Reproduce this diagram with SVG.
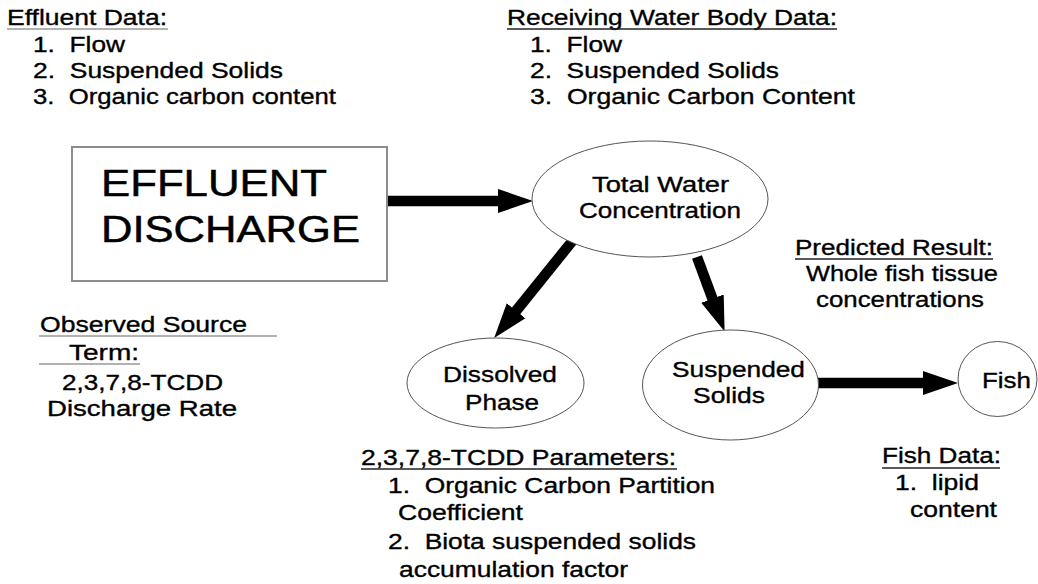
<svg xmlns="http://www.w3.org/2000/svg" width="1038" height="584" viewBox="0 0 1038 584">
<style>
.t{font-family:"Liberation Sans",Arial,Helvetica,sans-serif;font-size:22px;fill:#000;stroke:#000;stroke-width:0.35px}
.big{font-size:36.5px;stroke-width:0.5px}
.node{fill:#fff;stroke:#555;stroke-width:1}
.box{fill:#fff;stroke:#8c8c8c;stroke-width:2}
.ul{stroke:#222;stroke-width:1.5}
.ulg{stroke:#999;stroke-width:1.5}
.arr{stroke:#000;stroke-width:10.5;fill:none;marker-end:url(#ah)}
</style>
<defs>
<marker id="ah" markerUnits="userSpaceOnUse" viewBox="0 -13 35 26" refX="1" refY="0" markerWidth="35" markerHeight="26" orient="auto">
<path d="M0,-12 L35,0 L0,12z" fill="#000"/>
</marker>
</defs>
<rect width="1038" height="584" fill="#fff"/>

<g id="effluent-data">
<text class="t" x="7" y="25" textLength="160" lengthAdjust="spacingAndGlyphs">Effluent Data:</text>
<line class="ulg" x1="7" y1="29" x2="168" y2="29"/>
<text class="t" x="33" y="52" textLength="92" lengthAdjust="spacingAndGlyphs">1.&#160; Flow</text>
<text class="t" x="33" y="78" textLength="250" lengthAdjust="spacingAndGlyphs">2.&#160; Suspended Solids</text>
<text class="t" x="33" y="104" textLength="303" lengthAdjust="spacingAndGlyphs">3.&#160; Organic carbon content</text>
</g>

<g id="receiving-data">
<text class="t" x="507" y="25" textLength="330" lengthAdjust="spacingAndGlyphs">Receiving Water Body Data:</text>
<line class="ul" x1="507" y1="29" x2="837" y2="29"/>
<text class="t" x="530" y="52" textLength="92" lengthAdjust="spacingAndGlyphs">1.&#160; Flow</text>
<text class="t" x="530" y="78" textLength="249" lengthAdjust="spacingAndGlyphs">2.&#160; Suspended Solids</text>
<text class="t" x="530" y="104" textLength="325" lengthAdjust="spacingAndGlyphs">3.&#160; Organic Carbon Content</text>
</g>

<g id="connectors">
<path class="arr" d="M387,201 H499"/>
<path class="arr" d="M574,239 L515.5,311.6"/>
<path class="arr" d="M697,257 L712.8,299.6"/>
<path class="arr" d="M818,383 H924"/>
</g>

<g id="effluent-discharge">
<rect class="box" x="72" y="147" width="315" height="134"/>
<text class="t big" x="101" y="196" textLength="226" lengthAdjust="spacingAndGlyphs">EFFLUENT</text>
<text class="t big" x="101" y="242" textLength="259" lengthAdjust="spacingAndGlyphs">DISCHARGE</text>
</g>

<g id="total-water">
<ellipse class="node" cx="650" cy="199" rx="118" ry="58"/>
<text class="t" x="592" y="192" textLength="137" lengthAdjust="spacingAndGlyphs">Total Water</text>
<text class="t" x="579" y="218" textLength="162" lengthAdjust="spacingAndGlyphs">Concentration</text>
</g>

<g id="dissolved-phase">
<ellipse class="node" cx="495.5" cy="383" rx="88.5" ry="45"/>
<text class="t" x="443" y="382" textLength="114" lengthAdjust="spacingAndGlyphs">Dissolved</text>
<text class="t" x="465" y="410" textLength="74" lengthAdjust="spacingAndGlyphs">Phase</text>
</g>

<g id="suspended-solids">
<ellipse class="node" cx="730.5" cy="385" rx="88" ry="55"/>
<text class="t" x="672" y="377" textLength="133" lengthAdjust="spacingAndGlyphs">Suspended</text>
<text class="t" x="693" y="403" textLength="72" lengthAdjust="spacingAndGlyphs">Solids</text>
</g>

<g id="fish">
<ellipse class="node" cx="997.5" cy="379" rx="39.5" ry="37.5"/>
<text class="t" x="982" y="388" textLength="49" lengthAdjust="spacingAndGlyphs">Fish</text>
</g>

<g id="predicted-result">
<text class="t" x="795" y="255" textLength="198" lengthAdjust="spacingAndGlyphs">Predicted Result:</text>
<line class="ul" x1="795" y1="259" x2="993" y2="259"/>
<text class="t" x="806" y="281" textLength="192" lengthAdjust="spacingAndGlyphs">Whole fish tissue</text>
<text class="t" x="816" y="307" textLength="168" lengthAdjust="spacingAndGlyphs">concentrations</text>
</g>

<g id="observed-source">
<text class="t" x="40" y="332" textLength="207" lengthAdjust="spacingAndGlyphs">Observed Source</text>
<line class="ulg" x1="39" y1="336" x2="277" y2="336"/>
<text class="t" x="69" y="360" textLength="70" lengthAdjust="spacingAndGlyphs">Term:</text>
<line class="ulg" x1="39" y1="364" x2="140" y2="364"/>
<text class="t" x="62" y="390" textLength="161" lengthAdjust="spacingAndGlyphs">2,3,7,8-TCDD</text>
<text class="t" x="47" y="416" textLength="190" lengthAdjust="spacingAndGlyphs">Discharge Rate</text>
</g>

<g id="tcdd-parameters">
<text class="t" x="361" y="465" textLength="315" lengthAdjust="spacingAndGlyphs">2,3,7,8-TCDD Parameters:</text>
<line class="ul" x1="361" y1="469" x2="677" y2="469"/>
<text class="t" x="388" y="493" textLength="327" lengthAdjust="spacingAndGlyphs">1.&#160; Organic Carbon Partition</text>
<text class="t" x="398" y="520" textLength="125" lengthAdjust="spacingAndGlyphs">Coefficient</text>
<text class="t" x="388" y="549" textLength="308" lengthAdjust="spacingAndGlyphs">2.&#160; Biota suspended solids</text>
<text class="t" x="399" y="577" textLength="229" lengthAdjust="spacingAndGlyphs">accumulation factor</text>
</g>

<g id="fish-data">
<text class="t" x="882" y="463" textLength="119" lengthAdjust="spacingAndGlyphs">Fish Data:</text>
<line class="ul" x1="882" y1="468" x2="1000" y2="468"/>
<text class="t" x="895" y="490" textLength="84" lengthAdjust="spacingAndGlyphs">1.&#160; lipid</text>
<text class="t" x="910" y="517" textLength="87" lengthAdjust="spacingAndGlyphs">content</text>
</g>
</svg>
